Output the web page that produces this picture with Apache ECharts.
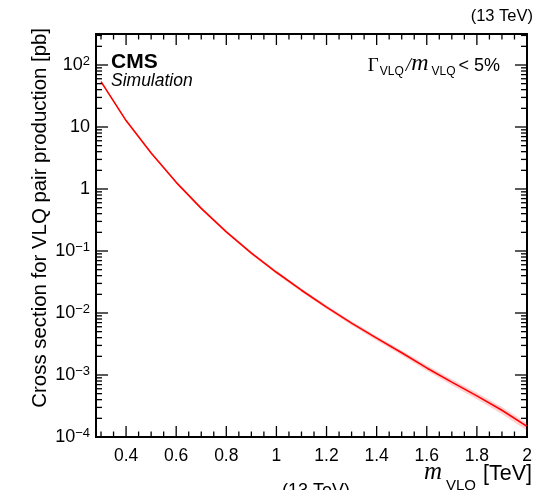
<!DOCTYPE html>
<html>
<head>
<meta charset="utf-8">
<script src="https://cdn.jsdelivr.net/npm/echarts@6/dist/echarts.min.js"></script>
<style>
  html, body { margin: 0; padding: 0; background: #fff; }
  #chart { width: 543px; height: 490px; }
</style>
</head>
<body>
<div id="chart"></div>
<script>
// VLQ pair-production cross section vs. VLQ mass (13 TeV)
const massTeV = [0.3, 0.4, 0.5, 0.6, 0.7, 0.8, 0.9, 1.0, 1.1, 1.2, 1.3, 1.4, 1.5, 1.6, 1.7, 1.8, 1.9, 2.0];
const xsecPb = [54, 12.7, 3.8, 1.28, 0.486, 0.203, 0.0927, 0.0454, 0.0233, 0.01245, 0.00686, 0.00393, 0.00228, 0.0013, 0.000767, 0.00046, 0.00027, 0.000148];
// relative theory uncertainty (drawn as a band around the curve)
const relUnc = [0.04, 0.04, 0.04, 0.045, 0.05, 0.05, 0.055, 0.06, 0.065, 0.07, 0.075, 0.08, 0.09, 0.10, 0.11, 0.12, 0.13, 0.14];

// axis ticks
const xMajorTicks = [0.4, 0.6, 0.8, 1.0, 1.2, 1.4, 1.6, 1.8, 2.0];
const xMinorTicks = [0.3, 0.35, 0.45, 0.5, 0.55, 0.65, 0.7, 0.75, 0.85, 0.9, 0.95, 1.05, 1.1, 1.15, 1.25, 1.3, 1.35, 1.45, 1.5, 1.55, 1.65, 1.7, 1.75, 1.85, 1.9, 1.95];
const yDecades = [1e-4, 1e-3, 1e-2, 1e-1, 1, 10, 100];
const yMinorMultipliers = [2, 3, 4, 5, 6, 7, 8, 9];

const X_MIN = 0.28, X_MAX = 2.0;
const Y_MIN = 1e-4, Y_MAX = Math.pow(10, 2.5);

const SANS = '"Liberation Sans", Arial, Helvetica, sans-serif';
const SERIF = '"Liberation Serif", "Times New Roman", serif';

const yMinorTicks = [];
yDecades.forEach(d => yMinorMultipliers.forEach(k => { if (d * k < Y_MAX) yMinorTicks.push(d * k); }));

// lay out a run of differently styled text pieces along a baseline, ending at xRight
const measureCtx = document.createElement('canvas').getContext('2d');
function textRun(pieces, xRight, baseline) {
  const widths = pieces.map(p => { measureCtx.font = p.font; return measureCtx.measureText(p.text).width; });
  const total = widths.reduce((a, b) => a + b, 0) + pieces.reduce((a, p) => a + (p.gap || 0), 0);
  let x = xRight - total;
  const out = [];
  pieces.forEach((p, i) => {
    x += p.gap || 0;
    out.push({
      type: 'text', x: x, y: baseline + (p.dy || 0) - 0.34 * p.size,
      style: { text: p.text, font: p.font, fill: '#000', verticalAlign: 'middle', align: 'left' }
    });
    x += widths[i];
  });
  return out;
}

const gammaLabel = textRun([
  { text: '\u0393', font: '19px ' + SERIF, size: 19 },
  { text: 'VLQ', font: '12px ' + SANS, size: 12, dy: 3.5, gap: 1 },
  { text: '/', font: 'italic 19px ' + SERIF, size: 19, gap: 2 },
  { text: 'm', font: 'italic 24px ' + SERIF, size: 24 },
  { text: 'VLQ', font: '12px ' + SANS, size: 12, dy: 3.5, gap: 3 },
  { text: '< 5%', font: '18px ' + SANS, size: 18, gap: 3 }
], 500, 72);

const xTitle = textRun([
  { text: 'm', font: 'italic 25px ' + SERIF, size: 25 },
  { text: 'VLQ', font: '15px ' + SANS, size: 15, dy: 10, gap: 4 },
  { text: '[TeV]', font: '21.5px ' + SANS, size: 21.5, gap: 7 }
], 532, 481);

const chart = echarts.init(document.getElementById('chart'), null, { renderer: 'canvas' });

function xTickRender(len) {
  return function (params, api) {
    const cs = params.coordSys;
    const x = api.coord([api.value(0), 1])[0];
    const bottom = cs.y + cs.height, top = cs.y;
    const st = { stroke: '#000', lineWidth: 1.3 };
    return {
      type: 'group',
      children: [
        { type: 'line', shape: { x1: x, y1: bottom, x2: x, y2: bottom - len }, style: st },
        { type: 'line', shape: { x1: x, y1: top, x2: x, y2: top + len }, style: st }
      ]
    };
  };
}
function yTickRender(len) {
  return function (params, api) {
    const cs = params.coordSys;
    const y = api.coord([X_MIN, api.value(1)])[1];
    const left = cs.x, right = cs.x + cs.width;
    const st = { stroke: '#000', lineWidth: 1.3 };
    return {
      type: 'group',
      children: [
        { type: 'line', shape: { x1: left, y1: y, x2: left + len, y2: y }, style: st },
        { type: 'line', shape: { x1: right, y1: y, x2: right - len, y2: y }, style: st }
      ]
    };
  };
}

const option = {
  animation: false,
  backgroundColor: '#fff',
  grid: {
    left: 96, right: 16, top: 34, bottom: 53,
    show: true, borderColor: '#000', borderWidth: 2, backgroundColor: 'transparent',
    containLabel: false, outerBoundsMode: 'none'
  },
  xAxis: {
    type: 'value', min: X_MIN, max: X_MAX,
    axisLine: { show: false }, axisTick: { show: false }, splitLine: { show: false },
    axisLabel: {
      customValues: xMajorTicks,
      margin: 10,
      color: '#000', fontSize: 17.5, fontFamily: SANS,
      formatter: v => String(Math.round(v * 10) / 10)
    }
  },
  yAxis: {
    type: 'log', logBase: 10, min: Y_MIN, max: Y_MAX,
    axisLine: { show: false }, axisTick: { show: false }, splitLine: { show: false },
    axisLabel: {
      margin: 6,
      formatter: v => {
        const lg = Math.log10(v);
        const e = Math.round(lg);
        if (Math.abs(lg - e) > 1e-6) return '';
        if (e === 0) return '{b|1}';
        if (e === 1) return '{b|10}';
        return '{b|10}{s|' + (e < 0 ? '\u2212' + (-e) : String(e)) + '}';
      },
      rich: {
        b: { fontSize: 18, fontFamily: SANS, color: '#000', lineHeight: 20 },
        s: { fontSize: 13, fontFamily: SANS, color: '#000', lineHeight: 10, verticalAlign: 'top' }
      }
    }
  },
  series: [
    {
      name: 'band', type: 'custom', silent: true, z: 2,
      data: [[massTeV[0], xsecPb[0]]],
      renderItem: function (params, api) {
        const up = massTeV.map((m, i) => api.coord([m, xsecPb[i] * (1 + relUnc[i])]));
        const dn = massTeV.map((m, i) => api.coord([m, xsecPb[i] * (1 - relUnc[i])])).reverse();
        return {
          type: 'polygon',
          shape: { points: up.concat(dn) },
          style: { fill: 'rgba(255, 80, 80, 0.28)', stroke: null }
        };
      }
    },
    {
      name: 'xsec', type: 'line', z: 3,
      data: massTeV.map((m, i) => [m, xsecPb[i]]),
      showSymbol: false, symbol: 'none', smooth: false,
      lineStyle: { color: '#ff0000', width: 1.6 }
    },
    { name: 'xMajor', type: 'custom', silent: true, z: 5, data: xMajorTicks.map(v => [v, 1]), renderItem: xTickRender(11) },
    { name: 'xMinor', type: 'custom', silent: true, z: 5, data: xMinorTicks.map(v => [v, 1]), renderItem: xTickRender(5.5) },
    { name: 'yMajor', type: 'custom', silent: true, z: 5, data: yDecades.map(v => [X_MIN, v]), renderItem: yTickRender(12) },
    { name: 'yMinor', type: 'custom', silent: true, z: 5, data: yMinorTicks.map(v => [X_MIN, v]), renderItem: yTickRender(6) }
  ],
  graphic: [
    { type: 'text', right: 10, top: 8, style: { text: '(13 TeV)', font: '16.5px ' + SANS, fill: '#000' } },
    { type: 'text', x: 111, y: 62, style: { text: 'CMS', font: 'bold 21px ' + SANS, fill: '#000', verticalAlign: 'middle' } },
    { type: 'text', x: 111, y: 81, style: { text: 'Simulation', font: 'italic 17.5px ' + SANS, fill: '#000', verticalAlign: 'middle' } },
    {
      type: 'text', x: 40, y: 28, rotation: Math.PI / 2,
      style: {
        text: 'Cross section for VLQ pair production [pb]',
        font: '20.4px ' + SANS, fill: '#000', align: 'right', verticalAlign: 'middle'
      }
    },
    { type: 'text', x: 282, y: 482, style: { text: '(13 TeV)', font: '18px ' + SANS, fill: '#000' } }
  ].concat(gammaLabel, xTitle)
};

chart.setOption(option);
</script>
</body>
</html>
